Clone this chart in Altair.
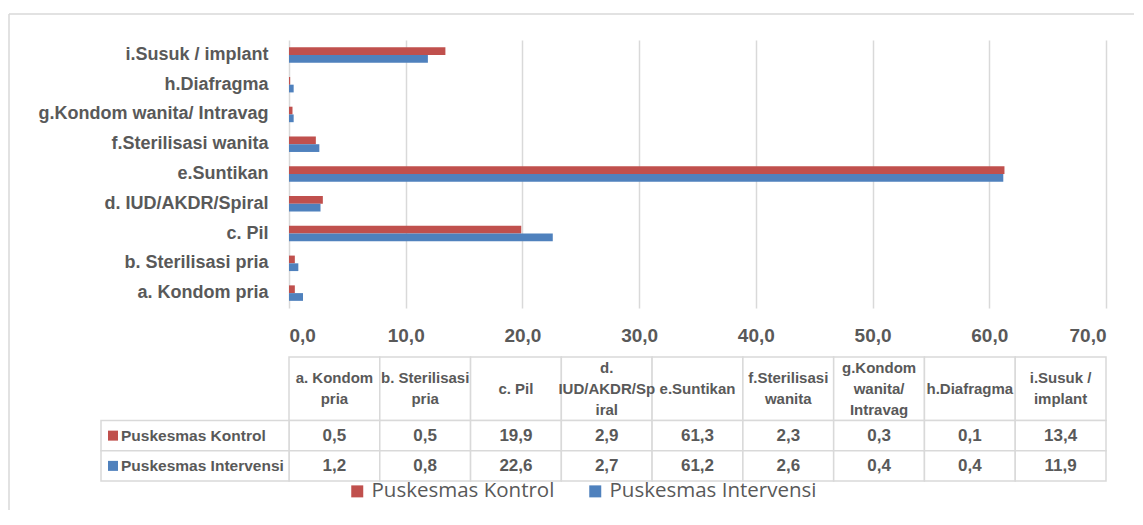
import altair as alt
import pandas as pd

categories = ["a. Kondom pria", "b. Sterilisasi pria", "c. Pil", "d. IUD/AKDR/Spiral",
              "e.Suntikan", "f.Sterilisasi wanita", "g.Kondom wanita/ Intravag",
              "h.Diafragma", "i.Susuk / implant"]
table_headers = [["a. Kondom", "pria"], ["b. Sterilisasi", "pria"], ["c. Pil"],
                 ["d.", "IUD/AKDR/Sp", "iral"], ["e.Suntikan"], ["f.Sterilisasi", "wanita"],
                 ["g.Kondom", "wanita/", "Intravag"], ["h.Diafragma"], ["i.Susuk /", "implant"]]
series = ["Puskesmas Kontrol", "Puskesmas Intervensi"]
kontrol = [0.5, 0.5, 19.9, 2.9, 61.3, 2.3, 0.3, 0.1, 13.4]
intervensi = [1.2, 0.8, 22.6, 2.7, 61.2, 2.6, 0.4, 0.4, 11.9]
x_ticks = [0, 10, 20, 30, 40, 50, 60, 70]
colors = ["#C0504D", "#4F81BD"]

FONT = "Liberation Sans, Arial, sans-serif"
GRAY = "#595959"
LINE = "#d9d9d9"

values_by_series = {series[0]: kontrol, series[1]: intervensi}

bars_df = pd.DataFrame([
    {"category": c, "series": s, "value": values_by_series[s][i]}
    for s in series for i, c in enumerate(categories)
])

color_scale = alt.Scale(domain=series, range=colors)
legend = alt.Legend(orient="none", legendX=58, legendY=441, direction="horizontal",
                    title=None, symbolType="square", symbolSize=144, symbolStrokeWidth=0,
                    labelFont="Open Sans", labelFontSize=20.5, labelColor=GRAY,
                    labelLimit=400, columnPadding=30, symbolOpacity=1)

bars = alt.Chart(bars_df).mark_bar().encode(
    y=alt.Y("category:N", sort=categories[::-1],
            scale=alt.Scale(paddingInner=0.48, paddingOuter=0.24),
            axis=alt.Axis(title=None, domain=False, ticks=False, labelFont=FONT,
                          labelFontSize=18, labelFontWeight="bold", labelColor=GRAY,
                          labelPadding=21, labelLimit=400)),
    yOffset=alt.YOffset("series:N", sort=series),
    x=alt.X("value:Q", scale=alt.Scale(domain=[0, 70], nice=False),
            axis=alt.Axis(values=x_ticks, title=None, domain=False, ticks=False, grid=True,
                          gridColor=LINE, gridWidth=1.5,
                          labelExpr="replace(format(datum.value, '.1f'), '.', ',')",
                          labelFont=FONT, labelFontSize=19, labelFontWeight="bold",
                          labelColor=GRAY, labelPadding=18)),
    color=alt.Color("series:N", scale=color_scale, sort=series, legend=legend),
)

frame_df = pd.DataFrame({"d": [0]})
frame_top = alt.Chart(frame_df).mark_rule(stroke=LINE, strokeWidth=1.5).encode(
    x=alt.value(-280), x2=alt.value(845), y=alt.value(-26))
frame_left = alt.Chart(frame_df).mark_rule(stroke=LINE, strokeWidth=1.5).encode(
    x=alt.value(-280), y=alt.value(-26), y2=alt.value(470))

top = alt.layer(frame_top, frame_left, bars).properties(width=817, height=268)

# table layout (row bands, in row units)
row_top = {"header": 0.0, series[0]: 2.1, series[1]: 3.1}
row_bottom = {"header": 2.1, series[0]: 3.1, series[1]: 4.1}
LINE_UNITS = 21 / 30.24  # one text line of the header, in row units

cells, texts = [], []
for i, c in enumerate(categories):
    for r in ["header"] + series:
        mid = (row_top[r] + row_bottom[r]) / 2
        cells.append({"category": c, "top": row_top[r], "bottom": row_bottom[r]})
        if r == "header":
            lines = table_headers[i]
            n = len(lines)
            for k, t in enumerate(lines):
                texts.append({"category": c, "mid": mid + (k - (n - 1) / 2) * LINE_UNITS,
                              "text": t, "kind": "header"})
        else:
            texts.append({"category": c, "mid": mid,
                          "text": f"{values_by_series[r][i]:.1f}".replace(".", ","),
                          "kind": "value"})
cells_df = pd.DataFrame(cells)
texts_df = pd.DataFrame(texts)
rows_df = pd.DataFrame([
    {"series": s, "top": row_top[s], "bottom": row_bottom[s],
     "mid": (row_top[s] + row_bottom[s]) / 2} for s in series
])

ydom = alt.Scale(domain=[0, 4.1], reverse=True, nice=False, zero=False)
xs = alt.X("category:N", sort=categories, scale=alt.Scale(paddingInner=0, paddingOuter=0), axis=None)
ys = alt.Y("top:Q", scale=ydom, axis=None)
ym = alt.Y("mid:Q", scale=ydom, axis=None)

cell_rects = alt.Chart(cells_df).mark_rect(fill="white", stroke=LINE, strokeWidth=1.5).encode(
    x=xs, y=ys, y2="bottom:Q")
header_text = alt.Chart(texts_df).transform_filter(alt.datum.kind == "header").mark_text(
    font=FONT, fontSize=15, fontWeight="bold", color=GRAY,
    baseline="middle", align="center").encode(x=xs, y=ym, text="text:N")
value_text = alt.Chart(texts_df).transform_filter(alt.datum.kind == "value").mark_text(
    font=FONT, fontSize=17, fontWeight="bold", color=GRAY,
    baseline="middle", align="center").encode(x=xs, y=ym, text="text:N")
row_rects = alt.Chart(rows_df).mark_rect(fill="white", stroke=LINE, strokeWidth=1.5).encode(
    x=alt.value(-188), x2=alt.value(0), y=ys, y2="bottom:Q")
row_text = alt.Chart(rows_df).mark_text(
    font=FONT, fontSize=15.5, fontWeight="bold", color=GRAY, align="left",
    baseline="middle").encode(x=alt.value(-168), y=ym, text="series:N")
row_keys = alt.Chart(rows_df).mark_point(shape="square", filled=True, size=100, opacity=1).encode(
    x=alt.value(-176), y=ym,
    color=alt.Color("series:N", scale=color_scale, sort=series, legend=legend))

table = alt.layer(cell_rects, row_rects, header_text, value_text, row_text, row_keys).properties(
    width=817, height=124)

chart = alt.vconcat(top, table, spacing=49, bounds="flush").properties(
    padding={"left": 0, "top": 5, "right": 0, "bottom": 0}
).configure_view(stroke=None)

chart.save("out.html", embed_options={"renderer": "svg", "actions": False})
